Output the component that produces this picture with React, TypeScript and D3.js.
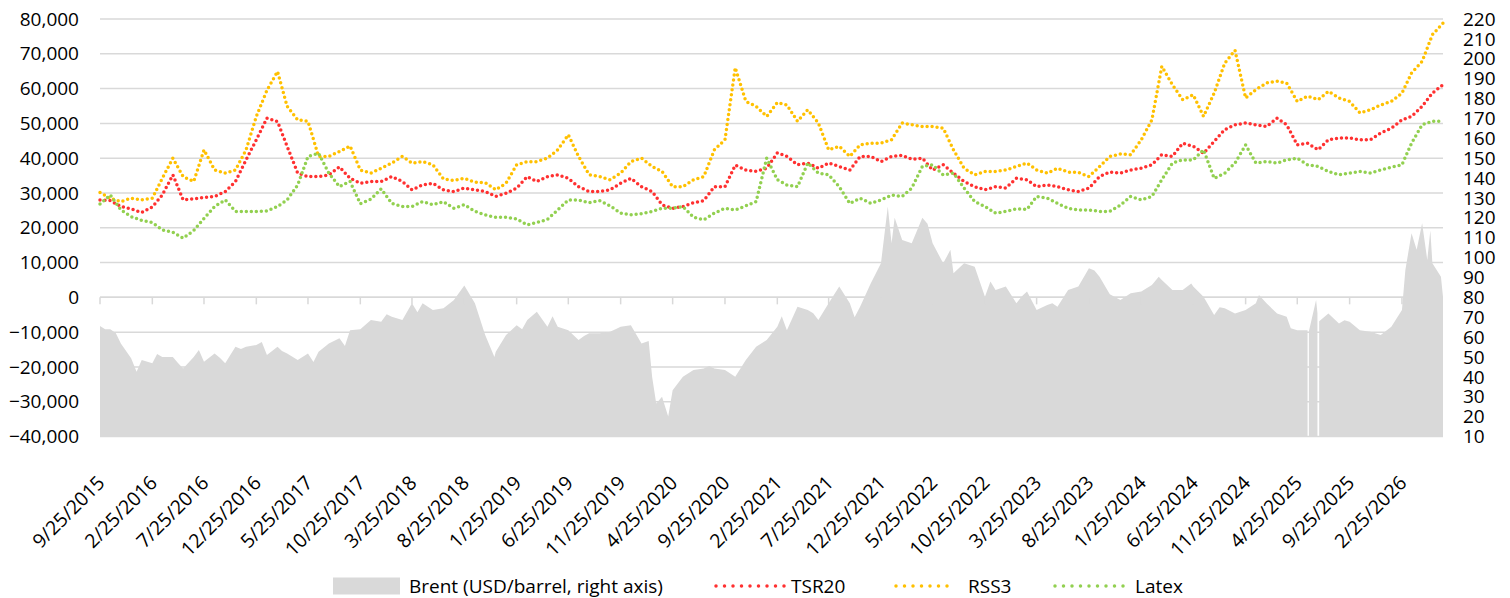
import React from 'react';
import * as d3 from 'd3';

// ---- Data (monthly observations from 9/25/2015, values in thousand) ----
const START_DATE = '2015-09-25';

const tsr20K = [
  28.0, 27.8, 26.1, 25.4, 24.4, 26.0, 29.4, 35.2, 28.0, 28.3,
  28.7, 29.0, 30.4, 33.3, 39.5, 45.3, 51.5, 50.5, 43.4, 35.7,
  34.7, 34.7, 35.2, 37.5, 34.2, 32.8, 33.3, 33.3, 34.7, 33.3,
  30.9, 32.3, 32.8, 30.9, 30.4, 31.4, 30.9, 30.4, 29.0, 29.9,
  31.4, 34.7, 33.3, 34.7, 35.2, 34.2, 31.8, 30.4, 30.4, 30.9,
  32.8, 34.2, 31.8, 30.4, 26.6, 25.6, 26.1, 27.2, 27.8, 31.8,
  31.8, 38.0, 36.6, 36.2, 37.1, 41.5, 40.5, 38.1, 38.6, 37.1,
  38.6, 37.6, 36.6, 40.5, 40.5, 39.0, 40.5, 40.8, 39.7, 40.0,
  36.6, 38.1, 35.7, 33.3, 31.8, 30.9, 31.8, 31.4, 34.2, 33.8,
  31.8, 32.3, 31.8, 30.9, 30.4, 31.4, 34.7, 36.0, 35.7, 36.6,
  37.1, 38.1, 41.0, 40.5, 44.3, 43.4, 41.4, 44.8, 48.2, 49.6,
  50.1, 49.6, 49.1, 51.5, 49.6, 43.8, 44.3, 42.4, 45.3, 45.8,
  45.8, 45.3, 45.3, 47.2, 48.6, 51.0, 52.0, 54.9, 58.7, 61.1,
];

const rss3K = [
  30.1, 28.5, 27.5, 28.5, 28.0, 28.5, 34.2, 40.0, 34.7, 33.3,
  42.4, 36.6, 35.7, 36.6, 42.4, 52.0, 59.5, 64.9, 54.9, 51.0,
  50.6, 40.5, 40.5, 41.9, 43.5, 36.6, 35.7, 37.1, 38.6, 40.5,
  38.6, 39.0, 38.1, 34.0, 33.6, 34.2, 33.1, 33.0, 30.9, 32.8,
  38.1, 39.0, 39.0, 40.0, 42.4, 46.7, 40.5, 35.2, 34.7, 33.8,
  35.7, 39.0, 40.0, 37.6, 36.2, 31.8, 31.8, 33.8, 34.7, 42.4,
  45.3, 66.0, 56.3, 54.9, 52.0, 56.0, 55.3, 50.6, 53.9, 50.1,
  42.4, 43.4, 40.5, 43.8, 44.3, 44.3, 45.3, 50.1, 49.6, 49.1,
  49.1, 48.6, 42.4, 37.1, 35.2, 36.2, 36.2, 36.6, 37.6, 38.6,
  36.6, 35.7, 37.1, 36.0, 35.9, 34.7, 37.6, 40.5, 41.2, 41.0,
  45.3, 51.0, 66.4, 61.1, 56.8, 58.2, 52.0, 58.7, 67.3, 71.0,
  57.3, 59.7, 61.6, 62.1, 61.6, 56.3, 57.8, 56.8, 59.2, 57.3,
  56.3, 53.0, 53.9, 55.3, 56.3, 58.7, 64.5, 67.8, 75.5, 78.8,
];

const latexK = [
  26.8, 29.4, 25.1, 23.2, 22.1, 21.5, 19.4, 18.7, 17.0, 19.2,
  22.7, 26.1, 28.0, 24.7, 24.7, 24.7, 24.8, 26.1, 28.0, 32.3,
  40.5, 41.4, 35.7, 31.8, 33.3, 26.9, 28.2, 31.2, 27.0, 26.1,
  26.1, 27.5, 26.6, 27.5, 25.6, 26.6, 24.7, 23.7, 23.0, 23.0,
  22.5, 20.8, 21.5, 22.4, 25.1, 28.0, 28.0, 27.2, 27.8, 26.3,
  24.2, 23.7, 24.0, 24.7, 25.6, 25.6, 26.1, 23.0, 22.3, 24.2,
  25.6, 25.1, 26.3, 27.5, 40.0, 33.8, 32.3, 31.8, 38.6, 35.7,
  35.2, 31.8, 27.0, 28.5, 27.0, 28.0, 29.4, 29.0, 31.4, 37.6,
  38.1, 35.2, 35.7, 31.4, 27.5, 26.1, 24.2, 24.7, 25.4, 25.3,
  29.0, 28.5, 27.0, 25.6, 25.1, 25.1, 24.7, 24.7, 26.5, 29.0,
  28.0, 29.0, 33.8, 38.6, 39.5, 39.5, 42.4, 34.2, 35.7, 38.6,
  43.8, 38.6, 39.0, 38.6, 39.5, 40.0, 38.1, 37.6, 36.2, 35.2,
  35.7, 36.2, 35.7, 36.6, 37.4, 38.1, 44.3, 49.6, 50.6, 50.6,
];

// Brent (USD/barrel, right axis), monthly, null = missing
const brentMonthly: (number | null)[] = [
  65.6, 63.9, 56.8, 49.3, 48.5, 46.8, 50.0, 50.0, 44.2, 50.0,
  47.6, 51.8, 46.8, 55.2, 55.2, 56.0, 51.0, 55.2, 51.8, 48.5,
  51.8, 52.6, 56.8, 59.4, 63.5, 63.9, 68.6, 67.7, 70.2, 68.6,
  77.0, 77.0, 73.6, 74.5, 78.5, 86.0, 77.0, 61.0, 52.6, 61.0,
  66.0, 68.6, 72.8, 65.2, 65.2, 63.5, 58.5, 61.9, 61.9, 62.7,
  65.2, 66.0, 56.8, 40.1, 30.0, 33.3, 40.1, 43.4, 44.2, 44.2,
  43.4, 40.1, 48.5, 55.2, 58.5, 65.2, 63.5, 75.3, 73.6, 68.6,
  77.0, 85.4, 77.0, 75.3, 87.0, 97.1, 107.2, 108.9, 107.2, 120.0,
  107.2, 97.1, 92.1, 97.1, 95.4, 80.3, 83.7, 85.4, 77.0, 82.9,
  73.6, 76.1, 75.3, 83.7, 85.4, 94.6, 90.4, 81.5, 78.7, 82.0,
  82.9, 86.2, 88.7, 83.7, 83.7, 85.4, 80.3, 71.1, 74.5, 71.9,
  73.6, 77.0, 77.0, 71.9, 70.2, 63.5, 63.5, null, 71.9, 66.9,
  67.7, 63.5, 62.7, 61.0, 65.2, 73.6, 112.2, 117.3, 97.1, 80.3,
];

const brentExtraDates = [
  '2015-10-10', '2015-11-10', '2016-01-10', '2016-03-10', '2016-05-10',
  '2016-07-10', '2016-09-10', '2016-11-10', '2017-01-10', '2017-03-10',
  '2017-06-10', '2017-09-10', '2018-01-10', '2018-04-10', '2018-11-21',
  '2019-02-10', '2019-05-10', '2019-08-10', '2019-11-10', '2020-02-15',
  '2020-03-08', '2020-04-12', '2020-08-10', '2021-03-10', '2021-06-10',
  '2021-10-09', '2022-01-14', '2022-02-03', '2022-05-10', '2022-07-16',
  '2022-11-10', '2023-02-10', '2023-05-10', '2023-09-10', '2024-03-16',
  '2024-06-19', '2024-09-10', '2025-01-03', '2025-04-06', '2025-05-27',
  '2025-05-29', '2025-06-19', '2025-06-23', '2025-06-28', '2025-09-10',
  '2026-03-07', '2026-04-09', '2026-05-10', '2026-05-19', '2026-06-19',
];
const brentExtraValues: (number | null)[] = [
  64.0, 62.0, 42.6, 51.5, 47.0,
  53.5, 49.5, 54.0, 57.5, 53.0,
  47.5, 55.5, 71.5, 72.5, 50.0,
  64.0, 70.5, 60.5, 64.0, 58.0,
  26.6, 20.0, 45.5, 70.5, 72.0,
  70.0, 125.7, 120.0, 117.0, 103.9,
  88.0, 80.5, 77.0, 93.5, 90.4,
  87.0, 75.0, 81.2, 64.4, null,
  63.0, 78.7, 72.0, 68.0, 68.5,
  93.8, 103.9, 98.8, 113.6, 90.4,
];

const leftTicks = [-40000, -30000, -20000, -10000, 0, 10000, 20000, 30000, 40000, 50000, 60000, 70000, 80000];
const rightTicks = [10, 20, 30, 40, 50, 60, 70, 80, 90, 100, 110, 120, 130, 140, 150, 160, 170, 180, 190, 200, 210, 220];
const X_TICK_STEP_MONTHS = 5;

const seriesNames = ['TSR20', 'RSS3', 'Latex'];
const brentName = 'Brent (USD/barrel, right axis)';

export default function App() {
  const W = 1510, H = 598;
  const x0 = 100, x1 = 1443, yTop = 19, yBot = 436.5;
  const FONT = "'Open Sans', sans-serif";
  const FS = 19;
  const GRID = '#d9d9d9';
  const colors = ['#ff3030', '#ffc000', '#92d050'];

  const parse = d3.timeParse('%Y-%m-%d');
  const start = parse(START_DATE) as Date;
  const dates = d3.range(tsr20K.length).map((i) => d3.timeMonth.offset(start, i));

  const x = d3.scaleTime().domain([dates[0], dates[dates.length - 1]]).range([x0, x1]);
  const yL = d3.scaleLinear().domain([-40000, 80000]).range([yBot, yTop]);
  const yR = d3.scaleLinear().domain([10, 220]).range([yBot, yTop]);

  const brent = [
    ...brentMonthly.map((v, i) => ({ d: dates[i], v })),
    ...brentExtraDates.map((s, i) => ({ d: parse(s) as Date, v: brentExtraValues[i] })),
  ].sort((a, b) => +a.d - +b.d);

  const area = d3
    .area<{ d: Date; v: number | null }>()
    .defined((p) => p.v != null)
    .x((p) => x(p.d))
    .y0(yR(10))
    .y1((p) => yR(p.v as number));

  const line = d3
    .line<number>()
    .x((_, i) => x(dates[i]))
    .y((v) => yL(v * 1000));

  const series = [tsr20K, rss3K, latexK];
  const fmtL = d3.format(',');
  const fmtDate = d3.timeFormat('%-m/%-d/%Y');
  const xTicks = d3.range(0, dates.length, X_TICK_STEP_MONTHS).map((i) => dates[i]);
  const y0 = yL(0);

  const legendY = 586;

  return (
    <svg width={W} height={H} style={{ position: 'absolute', left: 0, top: 0, background: '#fff' }} fontFamily={FONT}>
      {/* gridlines */}
      {leftTicks.map((t) => (
        <line key={'g' + t} x1={x0} x2={x1} y1={yL(t)} y2={yL(t)} stroke={GRID} strokeWidth={1.5} />
      ))}
      {/* Brent area */}
      <path d={area(brent) || ''} fill="#d9d9d9" />
      {/* zero axis with ticks */}
      <line x1={x0} x2={x1} y1={y0} y2={y0} stroke={GRID} strokeWidth={1.5} />
      {xTicks.map((d, i) => (
        <line key={'t' + i} x1={x(d)} x2={x(d)} y1={y0} y2={y0 + 7} stroke={GRID} strokeWidth={1.5} />
      ))}
      {/* series */}
      {series.map((s, k) => (
        <path
          key={'s' + k}
          d={line(s) || ''}
          fill="none"
          stroke={colors[k]}
          strokeWidth={3.5}
          strokeLinecap="round"
          strokeDasharray="0 5"
        />
      ))}
      {/* left axis labels */}
      {leftTicks.map((t) => (
        <text key={'l' + t} x={79} y={yL(t)} dy="0.35em" textAnchor="end" fontSize={FS} fill="#000">
          {fmtL(t)}
        </text>
      ))}
      {/* right axis labels */}
      {rightTicks.map((t) => (
        <text key={'r' + t} x={1463} y={yR(t)} dy="0.35em" textAnchor="start" fontSize={FS} fill="#000">
          {t}
        </text>
      ))}
      {/* x labels */}
      {xTicks.map((d, i) => (
        <text
          key={'x' + i}
          transform={`translate(${x(d) + 6},${484}) rotate(-45)`}
          textAnchor="end"
          fontSize={19.5}
          fill="#000"
        >
          {fmtDate(d)}
        </text>
      ))}
      {/* legend */}
      <rect x={333} y={legendY - 8.5} width={67} height={17} fill="#d9d9d9" />
      <text x={409} y={legendY} dy="0.35em" fontSize={FS} fill="#000">{brentName}</text>
      {[
        { x1: 716, x2: 785, tx: 791 },
        { x1: 896, x2: 950, tx: 968 },
        { x1: 1055, x2: 1125, tx: 1135 },
      ].map((L, k) => (
        <g key={'lg' + k}>
          <line
            x1={L.x1}
            x2={L.x2}
            y1={legendY}
            y2={legendY}
            stroke={colors[k]}
            strokeWidth={3.5}
            strokeLinecap="round"
            strokeDasharray="0 8.5"
          />
          <text x={L.tx} y={legendY} dy="0.35em" fontSize={FS} fill="#000">{seriesNames[k]}</text>
        </g>
      ))}
    </svg>
  );
}
